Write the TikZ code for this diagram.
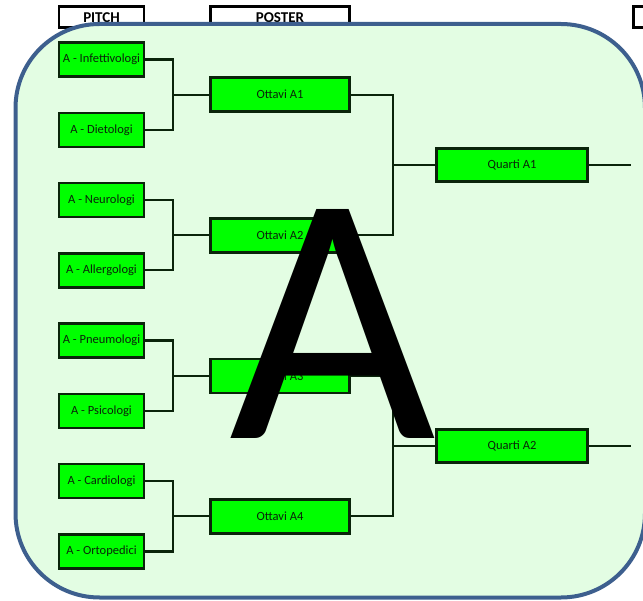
\documentclass[tikz,border=0pt]{standalone}
\usepackage{fontspec}
\setmainfont{Carlito}

\definecolor{panelfill}{HTML}{E3FDE3}
\definecolor{panelline}{HTML}{3D5F8E}
\definecolor{boxgreen}{HTML}{00FF00}
\definecolor{boxline}{HTML}{0A240A}

\begin{document}
\begin{tikzpicture}[x=1pt,y=-1pt,
        head/.style={draw=black,fill=white,line width=2.5pt,minimum height=21pt,inner sep=0pt,
            text height=12pt,text depth=0pt,font=\fontsize{15}{15}\selectfont\bfseries},
        pitchbox/.style={draw=boxline,fill=boxgreen,line width=2.5pt,minimum width=85pt,minimum height=34pt,
            inner sep=0pt,text=boxline,font=\fontsize{12.5}{14}\selectfont},
        ottavibox/.style={pitchbox,minimum width=139pt},
        quartibox/.style={pitchbox,minimum width=151pt,minimum height=33pt},
        link/.style={draw=boxline,line width=2.2pt},
        panel/.style={draw=panelline,fill=panelfill,line width=4pt,rounded corners=84pt}]
        \useasboundingbox (0,0) rectangle (643,601);
        \clip (0,0) rectangle (643,601);
        % headers, partly covered by the panel
        \node[head,minimum width=85pt] (hpitch) at (101.5,17) {PITCH};
        \node[head,minimum width=139pt] (hposter) at (280,17) {POSTER};
        \node[head,minimum width=85pt] (hnext) at (676,17) {};
        \draw[panel] (15.5,24) rectangle (645,597.5);
        % pitch
        \node[pitchbox] (inf) at (101.5,59.5) {A - Infettivologi};
        \node[pitchbox] (die) at (101.5,129.8) {A - Dietologi};
        \node[pitchbox] (neu) at (101.5,200.1) {A - Neurologi};
        \node[pitchbox] (all) at (101.5,270.4) {A - Allergologi};
        \node[pitchbox] (pne) at (101.5,340.6) {A - Pneumologi};
        \node[pitchbox] (psi) at (101.5,410.9) {A - Psicologi};
        \node[pitchbox] (car) at (101.5,481.2) {A - Cardiologi};
        \node[pitchbox] (ort) at (101.5,551.5) {A - Ortopedici};
        % ottavi
        \node[ottavibox] (ott1) at (280,94.7) {Ottavi A1};
        \node[ottavibox] (ott2) at (280,235.3) {Ottavi A2};
        \node[ottavibox] (ott3) at (280,375.8) {Ottavi A3};
        \node[ottavibox] (ott4) at (280,516.4) {Ottavi A4};
        % quarti
        \node[quartibox] (qua1) at (512,165) {Quarti A1};
        \node[quartibox] (qua2) at (512,446) {Quarti A2};
        \coordinate (j1) at (173,94.7);
        \coordinate (j2) at (173,235.3);
        \coordinate (j3) at (173,375.8);
        \coordinate (j4) at (173,516.4);
        \coordinate (k1) at (393,165);
        \coordinate (k2) at (393,446);
        \coordinate (out1) at (631,165);
        \coordinate (out2) at (631,446);
        \draw[link] (inf.east) -| (j1) |- (die.east);
        \draw[link] (j1) -- (ott1.west);
        \draw[link] (neu.east) -| (j2) |- (all.east);
        \draw[link] (j2) -- (ott2.west);
        \draw[link] (pne.east) -| (j3) |- (psi.east);
        \draw[link] (j3) -- (ott3.west);
        \draw[link] (car.east) -| (j4) |- (ort.east);
        \draw[link] (j4) -- (ott4.west);
        \draw[link] (ott1.east) -| (k1) |- (ott2.east);
        \draw[link] (k1) -- (qua1.west);
        \draw[link] (ott3.east) -| (k2) |- (ott4.east);
        \draw[link] (k2) -- (qua2.west);
        \draw[link] (qua1.east) -- (out1);
        \draw[link] (qua2.east) -- (out2);
        % big letter on top
        \node[anchor=base,inner sep=0pt,font=\fontsize{357}{357}\selectfont] (bigA) at (333,439) {A};
    \end{tikzpicture}
\end{document}
